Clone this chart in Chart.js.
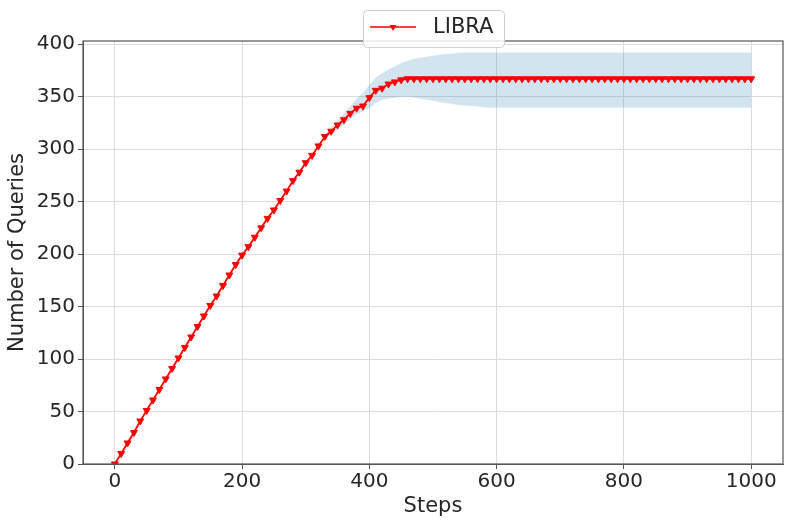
<!DOCTYPE html>
<html>
<head>
<meta charset="utf-8">
<script src="https://cdn.jsdelivr.net/npm/chart.js@4.4.1/dist/chart.umd.min.js"></script>
<style>
  html, body { margin: 0; padding: 0; background: #ffffff; }
  #wrap { width: 793px; height: 529px; }
</style>
</head>
<body>
<div id="wrap"><canvas id="c" width="793" height="529"></canvas></div>
<script>
const seriesName = 'LIBRA';
const xTitle = 'Steps';
const yTitle = 'Number of Queries';

const steps = [0,10,20,30,40,50,60,70,80,90,100,110,120,130,140,150,160,170,180,190,
  200,210,220,230,240,250,260,270,280,290,300,310,320,330,340,350,360,370,380,390,
  400,410,420,430,440,450,460,470,480,490,500,510,520,530,540,550,560,570,580,590,
  600,610,620,630,640,650,660,670,680,690,700,710,720,730,740,750,760,770,780,790,
  800,810,820,830,840,850,860,870,880,890,900,910,920,930,940,950,960,970,980,990,1000];

const libraMean = [0,10,20,30,41,51,61,71,81,91,101,111,121,131,141,151,160,170,180,190,
  199,207,216,225,234,242,251,260,270,278,287,294,303,312,317,323,328,334,339,341,
  349,356,358,362,364,366,367,367,367,367,367,367,367,367,367,367,367,367,367,367,
  367,367,367,367,367,367,367,367,367,367,367,367,367,367,367,367,367,367,367,367,
  367,367,367,367,367,367,367,367,367,367,367,367,367,367,367,367,367,367,367,367,367];

const libraUpper = [0,10,20,30,41,51,61,71,81,91,101,111,121,131,141,151,160,170,180,190,
  199,207,216,225,234,242,251,260,270,278,287,294,303,314,320,327,334,341,348,354,
  361,368,372,376,379,382,384,386,387,388,389,390,390.5,391,391.5,392,392,392,392,392,
  392,392,392,392,392,392,392,392,392,392,392,392,392,392,392,392,392,392,392,392,
  392,392,392,392,392,392,392,392,392,392,392,392,392,392,392,392,392,392,392,392,392];

const libraLower = [0,10,20,30,41,51,61,71,81,91,101,111,121,131,141,151,160,170,180,190,
  199,207,216,225,234,242,251,260,270,278,287,294,303,310,314,319,323,328,333,336,
  339,344,347,348,349,350,350,349,348,347,346,345,344,343,342,341.5,341,340.5,340,339.5,
  339.5,339.5,339.5,339.5,339.5,339.5,339.5,339.5,339.5,339.5,339.5,339.5,339.5,339.5,339.5,339.5,339.5,339.5,339.5,339.5,
  339.5,339.5,339.5,339.5,339.5,339.5,339.5,339.5,339.5,339.5,339.5,339.5,339.5,339.5,339.5,339.5,339.5,339.5,339.5,339.5,339.5];

const xTicks = [0, 200, 400, 600, 800, 1000];
const yTicks = [0, 50, 100, 150, 200, 250, 300, 350, 400];

const toPts = (arr) => steps.map((s, i) => ({ x: s, y: arr[i] }));

const FONT = "'DejaVu Sans', 'Liberation Sans', sans-serif";
const TEXT = '#262626';
const RED = '#ff0000';
const BAND = 'rgba(31,119,180,0.2)';

const framePlugin = {
  id: 'frameLegend',
  afterDraw(chart) {
    const { ctx, chartArea: a } = chart;
    ctx.save();
    ctx.strokeStyle = '#555555';
    ctx.lineWidth = 1.2;
    ctx.strokeRect(a.left, a.top, a.right - a.left, a.bottom - a.top);

    // legend box
    const bx = 363.5, by = 10.5, bw = 141, bh = 37;
    ctx.beginPath();
    ctx.roundRect(bx, by, bw, bh, 4);
    ctx.fillStyle = 'rgba(255,255,255,0.85)';
    ctx.fill();
    ctx.strokeStyle = '#d0d0d0';
    ctx.lineWidth = 1;
    ctx.stroke();

    const ly = 27;
    ctx.beginPath();
    ctx.moveTo(370, ly);
    ctx.lineTo(416, ly);
    ctx.strokeStyle = RED;
    ctx.lineWidth = 1.5;
    ctx.stroke();
    const mx = 393, r = 4;
    ctx.beginPath();
    ctx.moveTo(mx, ly + r);
    ctx.lineTo(mx - r * 0.866, ly - r * 0.5);
    ctx.lineTo(mx + r * 0.866, ly - r * 0.5);
    ctx.closePath();
    ctx.fillStyle = RED;
    ctx.fill();

    ctx.fillStyle = TEXT;
    ctx.font = "21px " + FONT;
    ctx.textBaseline = 'middle';
    ctx.textAlign = 'left';
    ctx.fillText(chart.data.datasets[0].label, 433, ly + 1);
    ctx.restore();
  }
};

new Chart(document.getElementById('c'), {
  type: 'line',
  data: {
    datasets: [
      {
        label: seriesName,
        data: toPts(libraMean),
        borderColor: RED,
        backgroundColor: RED,
        borderWidth: 1.8,
        pointStyle: 'triangle',
        rotation: 180,
        pointRadius: 4,
        pointBorderWidth: 1,
        pointBackgroundColor: RED,
        pointBorderColor: RED,
        fill: false,
        tension: 0
      },
      {
        label: 'upper',
        data: toPts(libraUpper),
        borderWidth: 0,
        borderColor: 'rgba(0,0,0,0)',
        pointRadius: 0,
        fill: false,
        tension: 0
      },
      {
        label: 'lower',
        data: toPts(libraLower),
        borderWidth: 0,
        borderColor: 'rgba(0,0,0,0)',
        backgroundColor: BAND,
        pointRadius: 0,
        fill: '-1',
        tension: 0
      }
    ]
  },
  options: {
    responsive: false,
    animation: false,
    events: [],
    layout: { padding: { top: 41, right: 10, left: 0, bottom: 0 } },
    plugins: {
      legend: { display: false },
      tooltip: { enabled: false },
      filler: { propagate: false }
    },
    scales: {
      x: {
        type: 'linear',
        min: -50,
        max: 1050,
        afterFit(s) { s.height = 65; },
        afterBuildTicks(s) { s.ticks = xTicks.map(v => ({ value: v })); },
        ticks: {
          includeBounds: false,
          color: TEXT,
          font: { family: FONT, size: 20 },
          padding: 1,
          maxRotation: 0,
          callback: (v) => String(v)
        },
        grid: { color: '#dcdcdc', lineWidth: 1, tickLength: 5, tickColor: '#555555' },
        border: { color: '#555555', width: 1 },
        title: {
          display: true,
          text: xTitle,
          color: TEXT,
          font: { family: FONT, size: 21 },
          padding: { top: 0, bottom: 10 }
        }
      },
      y: {
        type: 'linear',
        min: 0,
        max: 403,
        afterFit(s) { s.width = 83; },
        afterBuildTicks(s) { s.ticks = yTicks.map(v => ({ value: v })); },
        ticks: {
          includeBounds: false,
          color: TEXT,
          font: { family: FONT, size: 20 },
          padding: 3,
          callback: (v) => String(v)
        },
        grid: { color: '#dcdcdc', lineWidth: 1, tickLength: 5, tickColor: '#555555' },
        border: { color: '#555555', width: 1 },
        title: {
          display: true,
          text: yTitle,
          color: TEXT,
          font: { family: FONT, size: 21 },
          padding: { top: 5, bottom: 0 }
        }
      }
    }
  },
  plugins: [framePlugin]
});
</script>
</body>
</html>
